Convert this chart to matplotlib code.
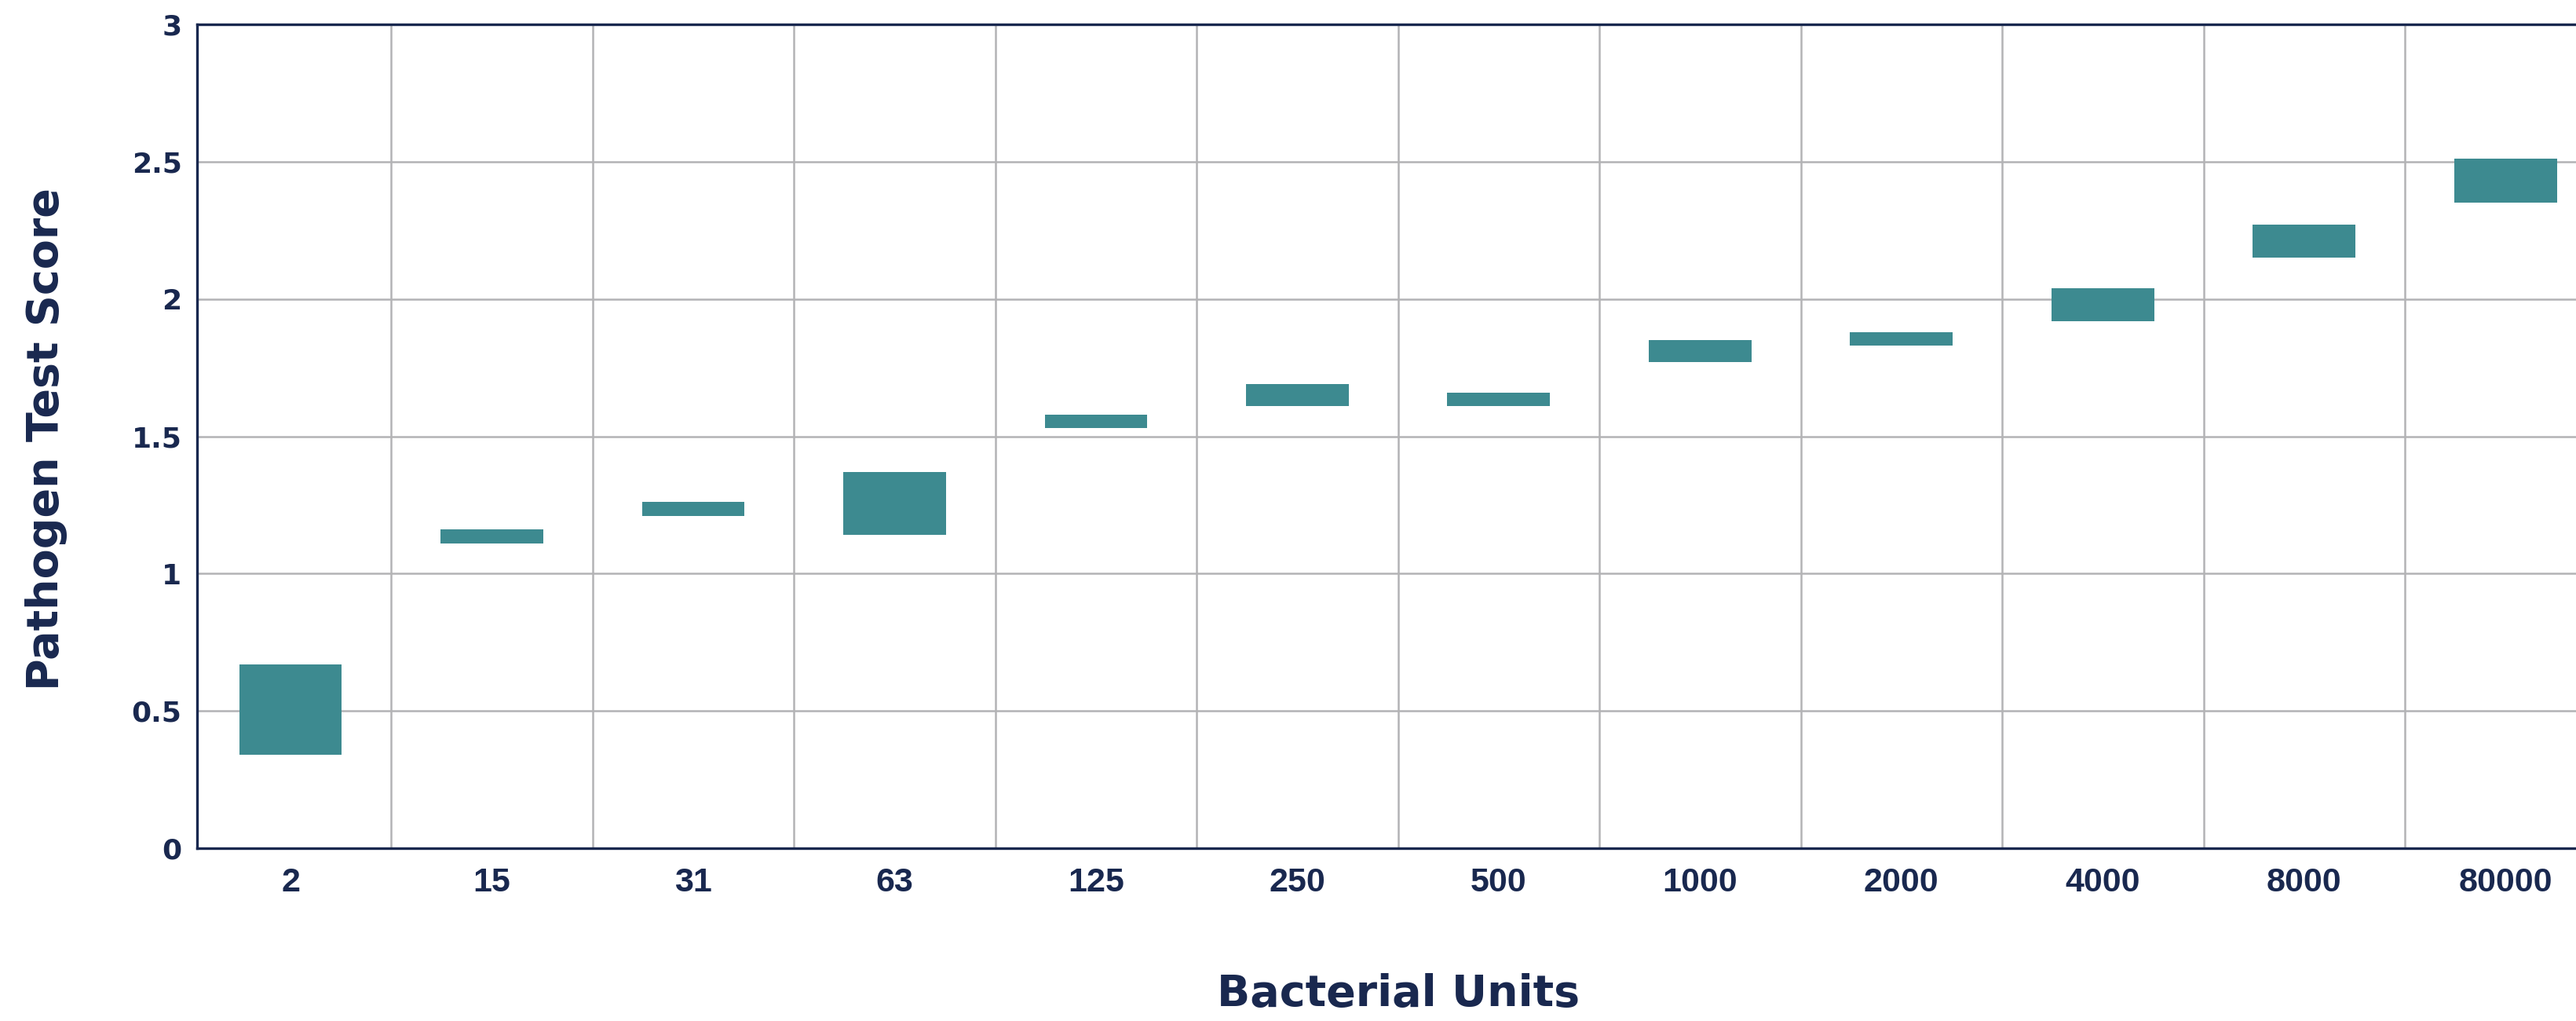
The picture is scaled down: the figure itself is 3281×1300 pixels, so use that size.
import numpy as np
import matplotlib
matplotlib.use('Agg')
import matplotlib.pyplot as plt
from matplotlib.ticker import FixedLocator

# data
units = ['2', '15', '31', '63', '125', '250', '500', '1000', '2000', '4000', '8000', '80000']
score_low = [0.34, 1.11, 1.21, 1.14, 1.53, 1.61, 1.61, 1.77, 1.83, 1.92, 2.15, 2.35]
score_high = [0.67, 1.16, 1.26, 1.37, 1.58, 1.69, 1.66, 1.85, 1.88, 2.04, 2.27, 2.51]
y_ticks = [0, 0.5, 1, 1.5, 2, 2.5, 3]
y_tick_labels = ['0', '0.5', '1', '1.5', '2', '2.5', '3']

navy = '#19284f'
teal = '#3d8a90'
grid_col = '#b3b3b5'

fig = plt.figure(figsize=(32.81, 13.0), dpi=100)
ax = fig.add_axes([251 / 3281, 220 / 1300, 3030 / 3281, 1049 / 1300])

x = np.arange(len(units))
low = np.array(score_low)
high = np.array(score_high)
ax.bar(x, high - low, bottom=low, width=0.51, color=teal, zorder=3)

ax.set_xlim(-0.464, 11.35)
ax.set_ylim(0, 3)

# grid: horizontal on the y ticks, vertical between categories
ax.yaxis.set_major_locator(FixedLocator(y_ticks))
ax.set_yticklabels(y_tick_labels)
ax.xaxis.set_major_locator(FixedLocator(x))
ax.set_xticklabels(units)
ax.xaxis.set_minor_locator(FixedLocator(x[:-1] + 0.5))
ax.grid(True, axis='y', which='major', color=grid_col, linewidth=1.8, zorder=0)
ax.grid(True, axis='x', which='minor', color=grid_col, linewidth=1.8, zorder=0)
ax.set_axisbelow(True)

ax.tick_params(axis='both', which='both', length=0)
ax.tick_params(axis='y', pad=14)
ax.tick_params(axis='x', pad=17)
for lbl in ax.get_yticklabels():
    lbl.set_fontsize(26)
    lbl.set_fontweight('bold')
    lbl.set_color(navy)
    lbl.set_verticalalignment('center_baseline')
for lbl in ax.get_xticklabels():
    lbl.set_fontsize(31)
    lbl.set_fontweight('bold')
    lbl.set_color(navy)
    lbl.set_fontfamily(['Liberation Sans', 'DejaVu Sans'])

for side in ['left', 'bottom', 'top']:
    ax.spines[side].set_color(navy)
    ax.spines[side].set_linewidth(2.4)
ax.spines['right'].set_visible(False)

ax.set_xlabel('Bacterial Units', fontsize=40, fontweight='bold', color=navy, va='center')
ax.xaxis.set_label_coords(0.505, -0.177)
ax.set_ylabel('Pathogen Test Score', fontsize=40, fontweight='bold', color=navy, va='center')
ax.yaxis.set_label_coords(-0.0634, 0.497)

fig.savefig('out.png', dpi=100, facecolor='white')
